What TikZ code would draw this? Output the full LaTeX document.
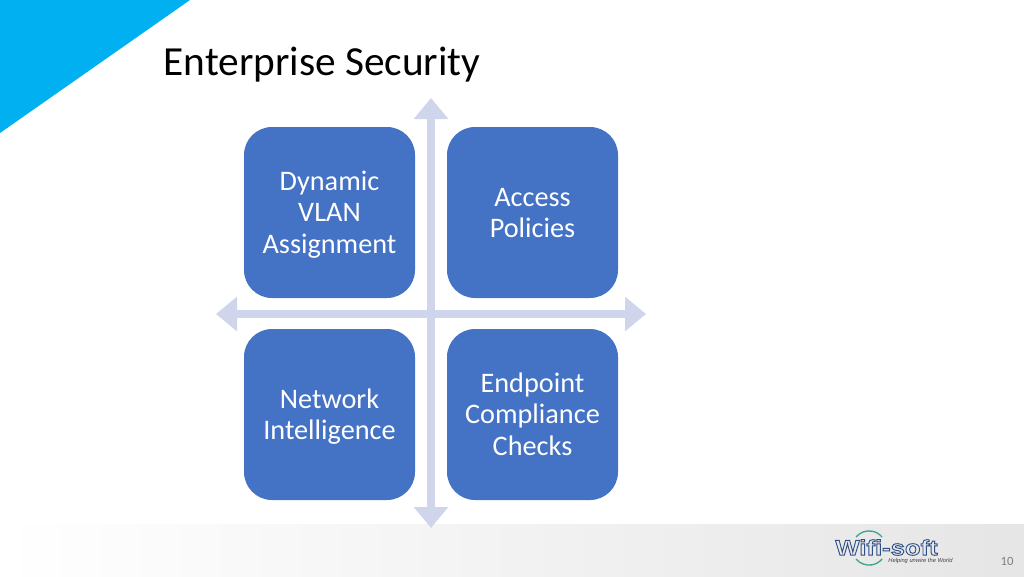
\documentclass[tikz,border=0pt]{standalone}
\usepackage{fontspec}
\setmainfont{Carlito}
\newfontfamily\logofont[FakeStretch=1.2]{Liberation Sans}
\newfontfamily\tagfont{Liberation Sans}
\usetikzlibrary{arrows.meta}
\definecolor{boxblue}{HTML}{4472C4}
\definecolor{crossblue}{HTML}{CFD5EA}
\definecolor{cornerblue}{HTML}{00B0F0}
\definecolor{logoblue}{HTML}{2F4F86}
\definecolor{logogreen}{HTML}{3FA58C}
\newcommand{\linetop}{\rule{0pt}{21pt}}
\begin{document}
\begin{tikzpicture}[x=0.75pt, y=-0.75pt,
  main/.style = {fill=boxblue, text=white, rounded corners=21pt, minimum size=128.25pt, inner sep=0pt, align=center, font=\fontsize{21.2}{23.6}\selectfont},
  cross/.style = {crossblue, line width=6pt, {Triangle[length=15.75pt, width=25pt]}-{Triangle[length=15.75pt, width=25pt]}},
  logotext/.style = {inner sep=0pt, text=logoblue, font=\logofont\bfseries\fontsize{16}{16}\selectfont}]
\useasboundingbox (0,0) rectangle (1024,576);
% background
\fill[left color=white, right color=black!10] (0,524) rectangle (1024,576);
\fill[cornerblue] (0,0) -- (190,0) -- (0,133) -- cycle;
\node (title) at (322,64.5) {\fontsize{31}{36}\selectfont Enterprise Security};
% cross arrows
\coordinate (top) at (431,98);
\coordinate (bottom) at (431,528);
\coordinate (left) at (216,314);
\coordinate (right) at (646,314);
\draw[cross] (top) -- (bottom);
\draw[cross] (left) -- (right);
% boxes
\node[main] (vlan) at (329.5,212.5) {\linetop Dynamic\\VLAN\\\strut Assignment};
\node[main] (access) at (532.5,212.5) {\linetop Access\\\strut Policies};
\node[main] (network) at (329.5,414.5) {\linetop Network\\\strut Intelligence};
\node[main] (endpoint) at (532.5,414.5) {\linetop Endpoint\\Compliance\\\strut Checks};
% logo
\draw[logogreen, line width=1pt] (856,537) arc[start angle=220, end angle=320, radius=17];
\draw[logogreen, line width=1pt] (856,559) arc[start angle=140, end angle=40, radius=17];
\node[logotext] (wifi) at (886.5,547.5) {\special{pdf:code 1 Tr 0.7 w}Wifi-soft\special{pdf:code 0 Tr}};
\node[inner sep=0pt, font=\tagfont\itshape\fontsize{4.3}{5}\selectfont, text=black!75] (tagline) at (920.5,561.5) {Helping unwire the World};
\node[inner sep=0pt, font=\fontsize{9.5}{11}\selectfont, text=black!50] (pagenum) at (1007,561) {10};
\end{tikzpicture}
\end{document}
